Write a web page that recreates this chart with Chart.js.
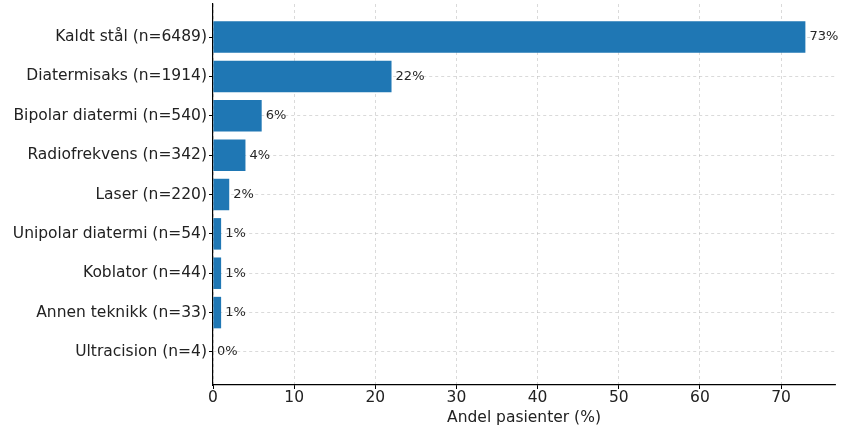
<!DOCTYPE html>
<html>
<head>
<meta charset="utf-8">
<script src="https://cdn.jsdelivr.net/npm/chart.js@4"></script>
<style>
  html, body { margin: 0; padding: 0; background: #fff; }
  #wrap { width: 847px; height: 433px; }
</style>
</head>
<body>
<div id="wrap"><canvas id="c" width="847" height="433"></canvas></div>
<script>
const categories = [
  "Kaldt stål (n=6489)",
  "Diatermisaks (n=1914)",
  "Bipolar diatermi (n=540)",
  "Radiofrekvens (n=342)",
  "Laser (n=220)",
  "Unipolar diatermi (n=54)",
  "Koblator (n=44)",
  "Annen teknikk (n=33)",
  "Ultracision (n=4)"
];
const shares = [73, 22, 6, 4, 2, 1, 1, 1, 0];
const valueLabels = ["73%", "22%", "6%", "4%", "2%", "1%", "1%", "1%", "0%"];
const xTicks = [0, 10, 20, 30, 40, 50, 60, 70];
const xTitle = "Andel pasienter (%)";

const FONT = "'DejaVu Sans', 'Liberation Sans', sans-serif";

const valueLabelPlugin = {
  id: 'valueLabels',
  afterDraw(chart) {
    const ctx = chart.ctx;
    const meta = chart.getDatasetMeta(0);
    const xs = chart.scales.x;
    ctx.save();
    ctx.font = "13px " + FONT;
    ctx.fillStyle = "#262626";
    ctx.textAlign = "left";
    ctx.textBaseline = "middle";
    meta.data.forEach((bar, i) => {
      const px = xs.getPixelForValue(shares[i] + 0.5);
      ctx.fillText(valueLabels[i], px, bar.y);
    });
    ctx.restore();
  }
};

new Chart(document.getElementById('c'), {
  type: 'bar',
  data: {
    datasets: [{
      data: shares.map((v, i) => ({ x: v, y: i })),
      backgroundColor: '#1f77b4',
      borderWidth: 0,
      categoryPercentage: 1.0,
      barPercentage: 0.8
    }]
  },
  options: {
    indexAxis: 'y',
    responsive: false,
    animation: false,
    devicePixelRatio: 1,
    layout: { padding: { top: 4, right: 12, left: 0, bottom: 0 } },
    plugins: { legend: { display: false }, tooltip: { enabled: false } },
    scales: {
      x: {
        type: 'linear',
        min: 0,
        max: 76.65,
        z: 1,
        afterBuildTicks(scale) { scale.ticks = xTicks.map(v => ({ value: v })); },
        afterFit(scale) { scale.height = 48; scale.paddingRight = 0; },
        ticks: {
          font: { family: FONT, size: 15.5 },
          color: '#222',
          padding: 0,
          autoSkip: false,
          maxRotation: 0
        },
        grid: {
          color: 'rgba(176,176,176,0.6)',
          lineWidth: 0.8,
          tickColor: '#000',
          tickLength: 4,
          tickWidth: 1,
          tickBorderDash: []
        },
        border: { display: true, color: '#000', width: 1.2, dash: [3, 3] },
        title: {
          display: true,
          text: xTitle,
          font: { family: FONT, size: 15.5 },
          color: '#222',
          padding: { top: 0, bottom: 6 }
        }
      },
      y: {
        type: 'linear',
        reverse: true,
        min: -0.84,
        max: 8.84,
        offset: false,
        z: 1,
        afterBuildTicks(scale) { scale.ticks = categories.map((c, i) => ({ value: i })); },
        afterFit(scale) { scale.width = 213; scale.paddingTop = 0; scale.paddingBottom = 0; },
        ticks: {
          font: { family: FONT, size: 15.5 },
          color: '#222',
          padding: 2,
          autoSkip: false,
          callback: (v) => categories[v]
        },
        grid: {
          offset: false,
          color: 'rgba(176,176,176,0.6)',
          lineWidth: 0.8,
          tickColor: '#000',
          tickLength: 4,
          tickWidth: 1,
          tickBorderDash: []
        },
        border: { display: true, color: '#000', width: 1.2, dash: [3, 3] }
      }
    }
  },
  plugins: [valueLabelPlugin]
});
</script>
</body>
</html>
